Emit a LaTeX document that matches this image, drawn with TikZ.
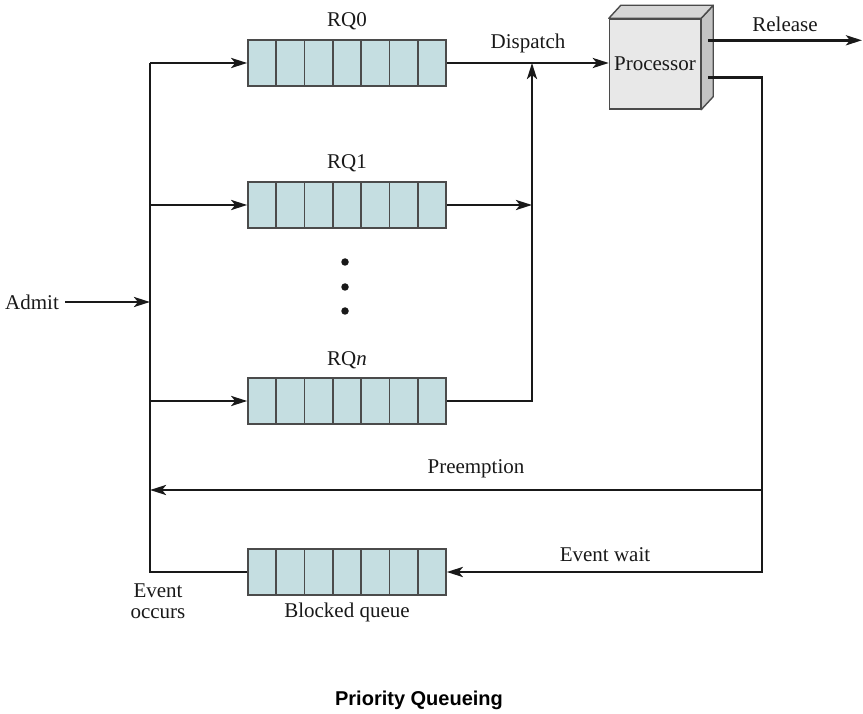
\documentclass[tikz,border=0pt]{standalone}
\usepackage{fontspec}
\setmainfont{Liberation Serif}
\newfontfamily\capfont{Liberation Sans}
\usetikzlibrary{calc,arrows.meta}

\definecolor{qfill}{RGB}{197,222,225}
\definecolor{qedge}{RGB}{75,75,75}
\definecolor{ink}{RGB}{25,25,25}
\definecolor{pfront}{RGB}{232,232,232}
\definecolor{ptop}{RGB}{214,214,214}
\definecolor{pside}{RGB}{196,196,196}

\tikzset{
  lbl/.style={font=\fontsize{21}{23}\selectfont, text=ink, inner sep=1pt},
  conn/.style={draw=ink, line width=2.8pt},
  arr/.style={conn, -{Stealth[length=16pt,width=10pt,inset=4pt]}},
  queue/.style={draw=qedge, line width=1.6pt, fill=qfill,
    minimum width=198pt, minimum height=46pt, inner sep=0pt,
    path picture={
      \foreach \k in {1,...,6}
        \draw[qedge, line width=1.6pt]
          ($(path picture bounding box.south west)!\k/7!(path picture bounding box.south east)$) --
          ($(path picture bounding box.north west)!\k/7!(path picture bounding box.north east)$);
    }},
  cpu/.style={draw=qedge, line width=1.4pt, fill=pfront,
    minimum width=91pt, minimum height=90pt, inner sep=0pt},
  dot/.style={circle, fill=ink, inner sep=0pt, minimum size=7.5pt}
}

\begin{document}
\begin{tikzpicture}[x=1pt, y=-1pt]
\useasboundingbox (0,0) rectangle (863,714);

% ready queues and the blocked queue
\node[queue] (rq0) at (347,63) {};
\node[queue] (rq1) at (347,205) {};
\node[queue] (rqn) at (347,401) {};
\node[queue] (bq)  at (347,572) {};

\node[lbl] (l0) at (347,21) {RQ0};
\node[lbl] (l1) at (347,163) {RQ1};
\node[lbl] (ln) at (347,360) {RQ\textit{n}};
\node[lbl] (lb) at (347,612) {Blocked queue};

% vertical ellipsis between RQ1 and RQn
\node[dot] (d1) at (345,262) {};
\node[dot] (d2) at (345,287) {};
\node[dot] (d3) at (345,311) {};

% processor drawn as a box with depth
\node[cpu] (proc) at (655,64) {};
\fill[pside, draw=qedge, line width=1.4pt, line join=round]
  (proc.north east) -- ++(12,-13) -- ($(proc.south east)+(12,-13)$) -- (proc.south east) -- cycle;
\fill[ptop, draw=qedge, line width=1.4pt, line join=round]
  (proc.north west) -- ++(12,-13) -- ($(proc.north east)+(12,-13)$) -- (proc.north east) -- cycle;
\node[lbl] (ptxt) at (proc.center) {Processor};

% junction points of the wiring
\coordinate (bustop) at (150,63);
\coordinate (mrg) at (532,63);
\coordinate (ret) at (762,490);
\coordinate (relout) at ($(proc.north east)+(7,22)$);
\coordinate (preout) at ($(proc.south east)+(7,-32)$);
\coordinate (relend) at (862,41);

% admission side
\node[lbl] (admit) at (32,302) {Admit};
\draw[arr] (admit.east) ++(5,0) -- (admit -| bustop);
\draw[conn] (bq.west) -| (bustop);
\draw[arr] (bustop) -- (rq0.west);
\draw[arr] (rq1.west -| bustop) -- (rq1.west);
\draw[arr] (rqn.west -| bustop) -- (rqn.west);

% dispatch side
\draw[arr] (rq0.east) -- (rq0.east -| proc.west);
\draw[arr] (rq1.east) -- (rq1.east -| mrg);
\draw[arr] (rqn.east) -| (mrg);
\node[lbl] (ldisp) at (528,43) {Dispatch};

% leaving the processor
\draw[arr] (relout) -- (relout -| relend);
\node[lbl] (lrel) at (785,24) {Release};
\draw[arr] (preout) -| (ret) -- (ret -| bustop);
\draw[arr] (ret) |- (bq.east);
\node[lbl] (lpre) at (476,469) {Preemption};
\node[lbl] (lwait) at (605,555) {Event wait};
\node[lbl, align=center] (locc) at (158,601) {Event\\[-2pt]occurs};

% caption
\node[font=\capfont\bfseries\fontsize{20}{22}\selectfont, text=black] (cap) at (419,700) {Priority Queueing};
\end{tikzpicture}
\end{document}
